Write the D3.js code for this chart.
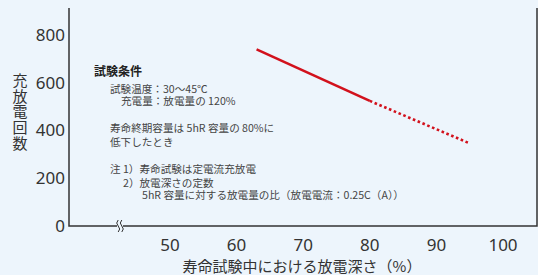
<!DOCTYPE html>
<html>
<head>
<meta charset="utf-8">
<script src="https://cdn.jsdelivr.net/npm/d3@7"></script>
<style>
  html, body { margin: 0; padding: 0; background: #edf5fc; }
  svg { display: block; }
  text { font-family: "Noto Sans CJK JP", "Noto Sans", sans-serif; fill: #333; }
</style>
</head>
<body>
<svg id="chart" width="538" height="275"></svg>
<script>
// data
const xTicks = [50, 60, 70, 80, 90, 100];
const yTicks = [0, 200, 400, 600, 800];
const solidLine = [[63, 740], [80, 524]];
const dottedLine = [[80, 524], [95, 346]];

const yTitle = '充放電回数';
const xTitle = '寿命試験中における放電深さ（%）';
const noteTitle = '試験条件';
const noteLines = [
  { text: '試験温度：30〜45℃', dx: 16, dy: 17 },
  { text: '充電量：放電量の 120%', dx: 27, dy: 29 },
  { text: '寿命終期容量は 5hR 容量の 80%に', dx: 16, dy: 56 },
  { text: '低下したとき', dx: 16, dy: 70 },
  { text: '注 1）寿命試験は定電流充放電', dx: 16, dy: 97 },
  { text: '2）放電深さの定数', dx: 29, dy: 111 },
  { text: '5hR 容量に対する放電量の比（放電電流：0.25C（A））', dx: 48, dy: 123 }
];

const svg = d3.select('#chart');
const plotL = 69, plotR = 537, plotT = 8, plotB = 226;

const x = d3.scaleLinear().domain([50, 100]).range([170, 503]);
const y = d3.scaleLinear().domain([0, 800]).range([plotB, 35]);

// frame
svg.append('path')
  .attr('d', `M${plotL},${plotT}V${plotB}H${plotR}V${plotT}`)
  .attr('fill', 'none')
  .attr('stroke', '#333')
  .attr('stroke-width', 1.5);

// axis break mark
const bx = 120;
svg.append('rect')
  .attr('x', bx - 3).attr('y', plotB - 3)
  .attr('width', 6).attr('height', 6)
  .attr('fill', '#edf5fc');
[-1.8, 1.8].forEach(off => {
  svg.append('path')
    .attr('d', `M${bx + off},${plotB - 6} q-3,3 0,6 q3,3 0,6`)
    .attr('fill', 'none')
    .attr('stroke', '#333')
    .attr('stroke-width', 1);
});

// tick labels
svg.append('g').selectAll('text')
  .data(yTicks)
  .join('text')
  .attr('x', 65)
  .attr('y', d => y(d))
  .attr('dy', '0.35em')
  .attr('text-anchor', 'end')
  .style('font-family', '"Noto Sans", sans-serif')
  .style('font-size', '17px')
  .text(d => d);

svg.append('g').selectAll('text')
  .data(xTicks)
  .join('text')
  .attr('x', d => x(d))
  .attr('y', 251)
  .attr('text-anchor', 'middle')
  .style('font-family', '"Noto Sans", sans-serif')
  .style('font-size', '17px')
  .text(d => d);

// axis titles
svg.append('text')
  .attr('x', 20)
  .attr('y', 73)
  .style('writing-mode', 'vertical-rl')
  .style('font-size', '15px')
  .style('letter-spacing', '0.6px')
  .text(yTitle);

svg.append('text')
  .attr('x', 302)
  .attr('y', 272)
  .attr('text-anchor', 'middle')
  .style('font-size', '15px')
  .text(xTitle);

// lines
const line = d3.line().x(d => x(d[0])).y(d => y(d[1]));
svg.append('path')
  .datum(solidLine)
  .attr('d', line)
  .attr('fill', 'none')
  .attr('stroke', '#d2111c')
  .attr('stroke-width', 2.6);
svg.append('path')
  .datum(dottedLine)
  .attr('d', line)
  .attr('fill', 'none')
  .attr('stroke', '#d2111c')
  .attr('stroke-width', 2.6)
  .attr('stroke-dasharray', '2.6,2.6');

// test conditions note
const nx = 94, ny = 76;
svg.append('text')
  .attr('x', nx)
  .attr('y', ny)
  .style('font-size', '12px')
  .style('font-weight', 'bold')
  .style('fill', '#222')
  .text(noteTitle);

svg.append('text')
  .style('font-size', '10.6px')
  .style('fill', '#444')
  .selectAll('tspan')
  .data(noteLines)
  .join('tspan')
  .attr('x', d => nx + d.dx)
  .attr('y', d => ny + d.dy)
  .text(d => d.text);
</script>
</body>
</html>
